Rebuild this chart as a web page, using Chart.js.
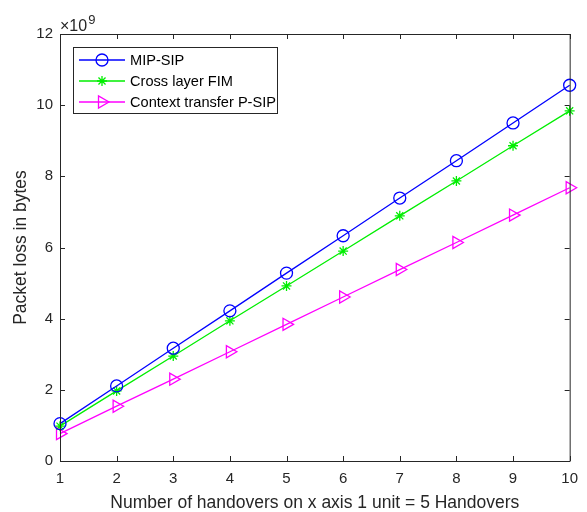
<!DOCTYPE html>
<html lang="en">
<head>
    <meta charset="UTF-8">
    <script src="https://cdn.jsdelivr.net/npm/chart.js"></script>
    <style>
        body { margin: 0; background: #fff; }
        #wrap { width: 587px; height: 512px; }
    </style>
</head>
<body>
    <div id="wrap"><canvas id="myChart1" width="587" height="512"></canvas></div>

    <script>
        // handovers (1 unit = 5 handovers)
        var handovers = [1, 2, 3, 4, 5, 6, 7, 8, 9, 10];
        // packet loss, x10^9 bytes
        var mipSip     = [1.05, 2.11, 3.17, 4.22, 5.28, 6.33, 7.39, 8.44, 9.50, 10.56];
        var crossLayer = [0.98, 1.97, 2.95, 3.94, 4.92, 5.90, 6.89, 7.87, 8.86, 9.84];
        var ctxTransfer = [0.77, 1.54, 2.30, 3.07, 3.84, 4.61, 5.38, 6.14, 6.91, 7.68];
        var seriesNames = ['MIP-SIP', 'Cross layer FIM', 'Context transfer P-SIP'];
        var yTicks = [0, 2, 4, 6, 8, 10, 12];

        var axisColor = '#262626';
        var fontName = '"Liberation Sans", Arial, sans-serif';

        var toPts = function(arr){
            return arr.map((v, i) => ({x: handovers[i], y: v}));
        }

        // matlab style box with inward ticks, exponent label and legend
        var matlabAxes = {
            id: 'matlabAxes',
            afterDatasetsDraw(chart) {
                const c = chart.ctx;
                const a = chart.chartArea;
                const xs = chart.scales.x, ys = chart.scales.y;
                c.save();
                c.strokeStyle = axisColor;
                c.lineWidth = 1;
                c.beginPath();
                c.rect(a.left + 0.5, a.top + 0.5, a.right - a.left, a.bottom - a.top);
                handovers.forEach(v => {
                    const px = Math.round(xs.getPixelForValue(v)) + 0.5;
                    c.moveTo(px, a.bottom); c.lineTo(px, a.bottom - 5);
                    c.moveTo(px, a.top); c.lineTo(px, a.top + 5);
                });
                yTicks.forEach(v => {
                    const py = Math.round(ys.getPixelForValue(v)) + 0.5;
                    c.moveTo(a.left, py); c.lineTo(a.left + 5, py);
                    c.moveTo(a.right, py); c.lineTo(a.right - 5, py);
                });
                c.stroke();

                // exponent
                c.fillStyle = axisColor;
                c.textBaseline = 'alphabetic';
                c.textAlign = 'left';
                c.font = '16px ' + fontName;
                c.fillText('\u00d710', a.left, a.top - 3);
                const w = c.measureText('\u00d710').width;
                c.font = '13px ' + fontName;
                c.fillText('9', a.left + w + 1, a.top - 10);

                // legend
                const lx = 73, ly = 47, lw = 204, lh = 66;
                c.fillStyle = '#fff';
                c.fillRect(lx, ly, lw, lh);
                c.strokeStyle = axisColor;
                c.lineWidth = 1;
                c.strokeRect(lx + 0.5, ly + 0.5, lw, lh);
                chart.data.datasets.forEach((ds, i) => {
                    const y = ly + 13 + i * 21;
                    c.strokeStyle = ds.borderColor;
                    c.fillStyle = 'rgba(0,0,0,0)';
                    c.lineWidth = 1.3;
                    c.beginPath();
                    c.moveTo(lx + 6, y); c.lineTo(lx + 52, y);
                    c.stroke();
                    Chart.helpers.drawPoint(c, {
                        pointStyle: ds.pointStyle,
                        radius: ds.pointRadius,
                        rotation: ds.pointRotation || 0,
                        borderWidth: 1.3
                    }, lx + 29, y);
                    c.fillStyle = '#000';
                    c.font = '14.6px ' + fontName;
                    c.textBaseline = 'middle';
                    c.fillText(ds.label, lx + 57, y + 1);
                });
                c.restore();
            }
        };

        const ctx1 = document.getElementById("myChart1").getContext("2d");
        new Chart(ctx1, {
            type: "line",
            data: {
                datasets: [
                    {
                        label: seriesNames[0],
                        data: toPts(mipSip),
                        borderColor: '#0000ff',
                        pointStyle: 'circle',
                        pointRadius: 6,
                    },
                    {
                        label: seriesNames[1],
                        data: toPts(crossLayer),
                        borderColor: '#00ee00',
                        pointStyle: 'star',
                        pointRadius: 5,
                    },
                    {
                        label: seriesNames[2],
                        data: toPts(ctxTransfer),
                        borderColor: '#ff00ff',
                        pointStyle: 'triangle',
                        pointRotation: 90,
                        pointRadius: 7,
                    },
                ].map(ds => Object.assign(ds, {
                    backgroundColor: 'rgba(0,0,0,0)',
                    pointBackgroundColor: 'rgba(0,0,0,0)',
                    pointBorderColor: ds.borderColor,
                    borderWidth: 1.3,
                    pointBorderWidth: 1.3,
                    tension: 0,
                    clip: false,
                })),
            },
            options: {
                responsive: false,
                animation: false,
                events: [],
                layout: { padding: { left: 0, top: 34, right: 13, bottom: 0 } },
                plugins: {
                    legend: { display: false },
                    tooltip: { enabled: false },
                },
                scales: {
                    x: {
                        type: 'linear',
                        min: 1,
                        max: 10,
                        afterBuildTicks: (s) => { s.ticks = handovers.map(v => ({value: v})); },
                        afterFit: (s) => { s.height = 51; },
                        grid: { display: false, drawTicks: false },
                        border: { display: false },
                        ticks: { color: axisColor, padding: 9, font: { family: fontName, size: 15 } },
                        title: {
                            display: true,
                            text: 'Number of handovers on x axis 1 unit = 5 Handovers',
                            color: axisColor,
                            font: { family: fontName, size: 17.5, lineHeight: 1 },
                            padding: { top: 0, bottom: 0 },
                        },
                    },
                    y: {
                        min: 0,
                        max: 12,
                        afterBuildTicks: (s) => { s.ticks = yTicks.map(v => ({value: v})); },
                        afterFit: (s) => { s.width = 60; },
                        grid: { display: false, drawTicks: false },
                        border: { display: false },
                        ticks: { color: axisColor, padding: 7, font: { family: fontName, size: 15 } },
                        title: {
                            display: true,
                            text: 'Packet loss in bytes',
                            color: axisColor,
                            font: { family: fontName, size: 17.5 },
                            padding: { top: 11, bottom: 0 },
                        },
                    },
                },
            },
            plugins: [matlabAxes],
        });
    </script>
</body>
</html>
